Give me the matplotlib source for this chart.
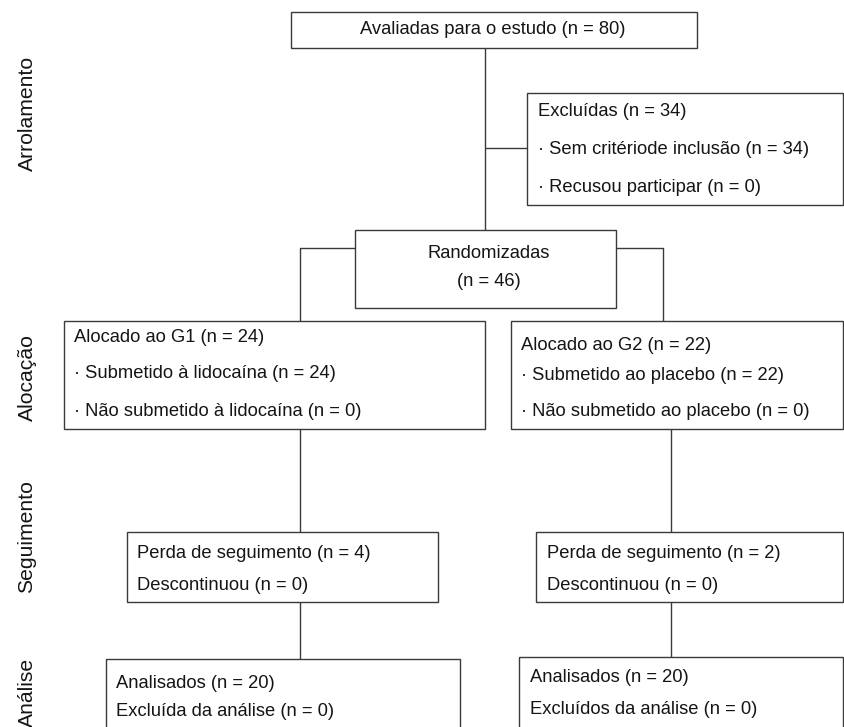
import matplotlib.pyplot as plt
from matplotlib.patches import Rectangle

plt.rcParams['font.family'] = ['Liberation Sans', 'DejaVu Sans']

# textos do fluxograma
fases = ['Arrolamento', 'Alocação', 'Seguimento', 'Análise']
avaliadas = 'Avaliadas para o estudo (n = 80)'
excluidas = ['Excluídas (n = 34)', '· Sem critériode inclusão (n = 34)', '· Recusou participar (n = 0)']
randomizadas = ['Randomizadas', '(n = 46)']
alocado_g1 = ['Alocado ao G1 (n = 24)', '· Submetido à lidocaína (n = 24)', '· Não submetido à lidocaína (n = 0)']
alocado_g2 = ['Alocado ao G2 (n = 22)', '· Submetido ao placebo (n = 22)', '· Não submetido ao placebo (n = 0)']
seguimento_g1 = ['Perda de seguimento (n = 4)', 'Descontinuou (n = 0)']
seguimento_g2 = ['Perda de seguimento (n = 2)', 'Descontinuou (n = 0)']
analise_g1 = ['Analisados (n = 20)', 'Excluída da análise (n = 0)']
analise_g2 = ['Analisados (n = 20)', 'Excluídos da análise (n = 0)']

W, H = 844, 727
fig = plt.figure(figsize=(W / 100, H / 100), dpi=100)
ax = fig.add_axes([0, 0, 1, 1])
ax.set_xlim(0, W)
ax.set_ylim(H, 0)
ax.axis('off')

lc = '#3a3a3a'
lw = 1.0
fs = 13.2


def caixa(x0, y0, x1, y1):
    ax.add_patch(Rectangle((x0, y0), x1 - x0, y1 - y0, fill=False, ec=lc, lw=lw))


def linha(xs, ys):
    ax.plot(xs, ys, color=lc, lw=lw, solid_capstyle='butt')


def textos(x, ys, linhas, ha='left'):
    for y, t in zip(ys, linhas):
        ax.text(x, y, t, ha=ha, va='center', fontsize=fs, color='#151515')


# caixa inicial
caixa(291, 12, 697, 48)
textos(493, [30], [avaliadas], ha='center')
linha([485, 485], [48, 230])

# excluidas
caixa(527, 93, 843, 205)
linha([485, 527], [148, 148])
textos(538, [111, 149, 187], excluidas)

# randomizadas
caixa(355, 230, 616, 308)
textos(489, [254, 282], randomizadas, ha='center')
linha([355, 300, 300], [248, 248, 321])
linha([616, 663, 663], [248, 248, 321])

# alocacao
caixa(64, 321, 485, 429)
textos(74, [337, 374, 412], alocado_g1)
caixa(511, 321, 843, 429)
textos(521, [345, 375, 412], alocado_g2)
linha([300, 300], [429, 532])
linha([671, 671], [429, 532])

# seguimento
caixa(127, 532, 438, 602)
textos(137, [554, 585], seguimento_g1)
caixa(536, 532, 843, 602)
textos(547, [554, 585], seguimento_g2)
linha([300, 300], [602, 659])
linha([671, 671], [602, 657])

# analise
caixa(106, 659, 460, 760)
textos(116, [683, 712], analise_g1)
caixa(519, 657, 843, 760)
textos(530, [677, 710], analise_g2)

# rotulos das fases
for y, t in zip([113, 378, 537, 692], fases):
    ax.text(27, y, t, rotation=90, ha='center', va='center', fontsize=15.2, color='#151515')

fig.savefig('out.png', dpi=100)
